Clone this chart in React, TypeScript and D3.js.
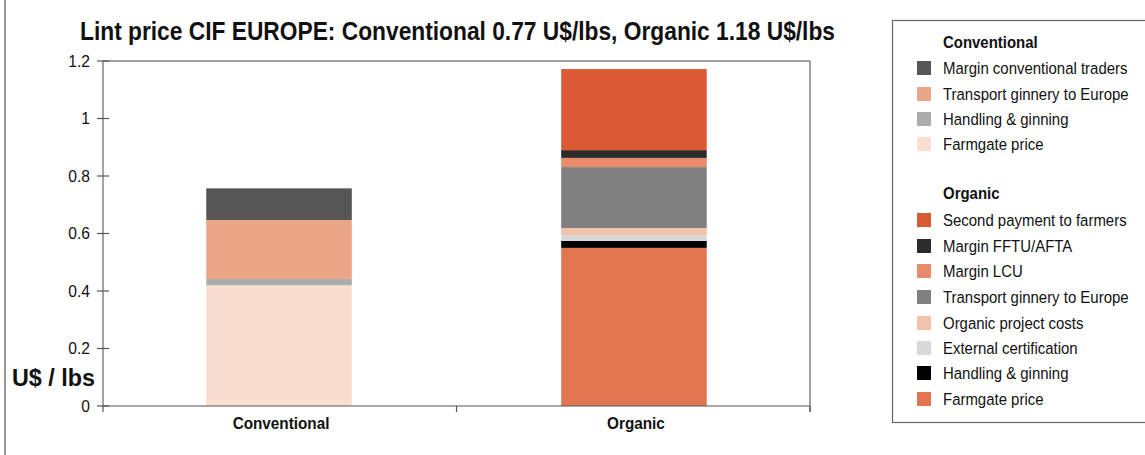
import React from "react";
import * as d3 from "d3";

const categories = ["Conventional", "Organic"];
const yTicks = [0, 0.2, 0.4, 0.6, 0.8, 1, 1.2];

// Conventional stack (bottom to top)
const convLabels = ["Farmgate price", "Handling & ginning", "Transport ginnery to Europe", "Margin conventional traders"];
const convValues = [0.42, 0.022, 0.205, 0.11];
const convColors = ["#F8DDD0", "#ACACAC", "#EBA587", "#555555"];

// Organic stack (bottom to top)
const orgLabels = ["Farmgate price", "Handling & ginning", "External certification", "Organic project costs", "Transport ginnery to Europe", "Margin LCU", "Margin FFTU/AFTA", "Second payment to farmers"];
const orgValues = [0.55, 0.024, 0.021, 0.024, 0.212, 0.032, 0.027, 0.282];
const orgColors = ["#E07550", "#000000", "#D9D9D9", "#F3C3AC", "#808080", "#E78B6B", "#2B2B2B", "#DB5A35"];

const FONT = "'Liberation Sans Narrow', 'Arial Narrow', 'Liberation Sans', sans-serif";

function NText({ x, y, sx = 0.88, children, ...rest }: any) {
  return (
    <text transform={`translate(${x},${y}) scale(${sx},1)`} {...rest}>
      {children}
    </text>
  );
}

export default function App() {
  const W = 1145, H = 455;
  const left = 103, right = 810, top = 61, bottom = 406;
  const x = d3.scaleBand().domain(categories).range([left, right]).paddingInner(0.59).paddingOuter(0.291);
  const y = d3.scaleLinear().domain([0, 1.2]).range([bottom, top]);

  const stacks = [
    { cat: "Conventional", values: convValues, colors: convColors },
    { cat: "Organic", values: orgValues, colors: orgColors },
  ];

  const legendRows: { label: string; color: string; y: number }[] = [];
  const convRowsY = [68, 94, 119, 144];
  const orgRowsY = [220, 246, 271, 297, 323, 348, 373, 399];
  const cl = [...convLabels].reverse(), cc = [...convColors].reverse();
  const ol = [...orgLabels].reverse(), oc = [...orgColors].reverse();
  cl.forEach((l, i) => legendRows.push({ label: l, color: cc[i], y: convRowsY[i] }));
  ol.forEach((l, i) => legendRows.push({ label: l, color: oc[i], y: orgRowsY[i] }));

  const bandEdges = [left, (left + right) / 2, right];

  return (
    <svg width={W} height={H} style={{ position: "absolute", left: 0, top: 0 }} fontFamily={FONT}>
      <rect x={0} y={0} width={W} height={H} fill="#fff" />
      <line x1={5} y1={0} x2={5} y2={H} stroke="#333" strokeWidth={1} />
      <text x={80} y={40} fontWeight="bold" fontSize={25} fill="#111" textLength={755} lengthAdjust="spacingAndGlyphs">
        Lint price CIF EUROPE: Conventional 0.77 U$/lbs, Organic 1.18 U$/lbs
      </text>

      {stacks.map((s) => {
        let acc = 0;
        return s.values.map((v, i) => {
          const y0 = acc;
          acc += v;
          return (
            <rect key={s.cat + i} x={x(s.cat)} width={x.bandwidth()} y={y(acc)} height={y(y0) - y(acc)} fill={s.colors[i]} />
          );
        });
      })}

      {/* frame */}
      <line x1={left} y1={top} x2={right} y2={top} stroke="#808080" strokeWidth={1.5} />
      <line x1={right} y1={top} x2={right} y2={bottom + 6} stroke="#808080" strokeWidth={1.5} />
      <line x1={left} y1={top} x2={left} y2={bottom} stroke="#666" strokeWidth={1.2} />
      <line x1={left} y1={bottom} x2={right} y2={bottom} stroke="#555" strokeWidth={1.2} />
      {bandEdges.map((bx, i) => (
        <line key={i} x1={bx} y1={bottom} x2={bx} y2={bottom + 6} stroke="#555" strokeWidth={1.2} />
      ))}
      {yTicks.map((t) => (
        <g key={t}>
          <line x1={left - 6} x2={left + 6} y1={y(t)} y2={y(t)} stroke="#555" strokeWidth={1.2} />
          <NText x={90} y={y(t) + 5.5} sx={0.92} textAnchor="end" fontSize={17} fill="#111">{String(t)}</NText>
        </g>
      ))}
      <text x={12} y={386} fontWeight="bold" fontSize={23} fill="#111" textLength={83} lengthAdjust="spacingAndGlyphs">U$ / lbs</text>
      {categories.map((c) => (
        <NText key={c} x={(x(c) ?? 0) + x.bandwidth() / 2 + 2} y={429} sx={0.9} textAnchor="middle" fontWeight="bold" fontSize={17} fill="#111">{c}</NText>
      ))}

      {/* legend */}
      <rect x={892.5} y={20.5} width={270} height={402} fill="#fff" stroke="#666" strokeWidth={1.2} />
      <NText x={943} y={48} fontWeight="bold" fontSize={17} fill="#111">Conventional</NText>
      <NText x={943} y={199} fontWeight="bold" fontSize={17} fill="#111">Organic</NText>
      {legendRows.map((r, i) => (
        <g key={i}>
          <rect x={917} y={r.y - 7} width={14} height={14} fill={r.color} />
          <NText x={943} y={r.y + 6} fontSize={17} fill="#111">{r.label}</NText>
        </g>
      ))}
    </svg>
  );
}
